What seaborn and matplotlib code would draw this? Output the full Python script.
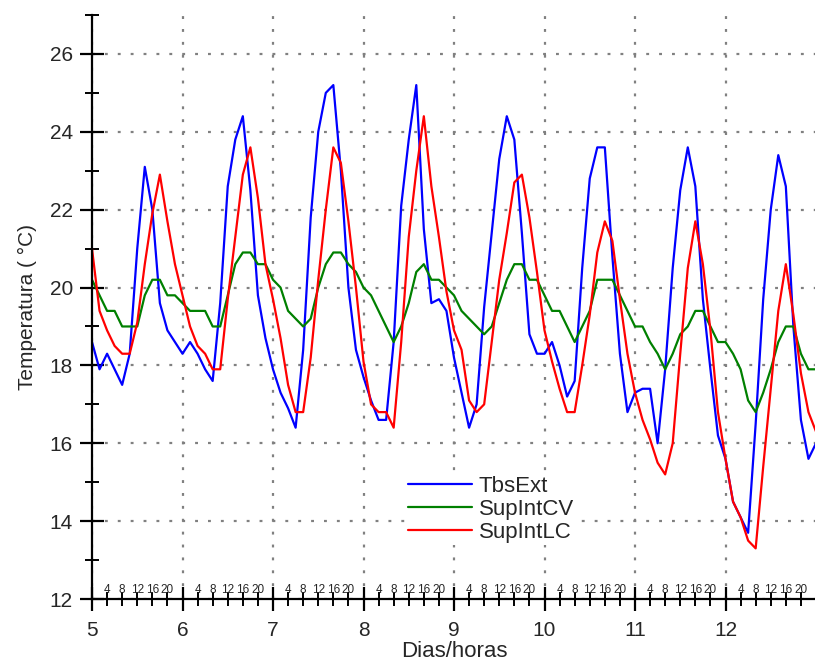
import numpy as np
import pandas as pd
import seaborn as sns
import matplotlib.pyplot as plt
import matplotlib.transforms as mtransforms
from matplotlib.ticker import MultipleLocator, FixedLocator

# leituras a cada 2 horas, a partir do dia 5 às 0h
hours = np.arange(0, 193, 2)

tbs_ext = [
    18.6, 17.9, 18.3, 17.9, 17.5, 18.3, 21.0, 23.1, 22.0, 19.6, 18.9, 18.6,
    18.3, 18.6, 18.3, 17.9, 17.6, 19.6, 22.6, 23.8, 24.4, 22.5, 19.8, 18.7,
    17.9, 17.3, 16.9, 16.4, 18.4, 21.8, 24.0, 25.0, 25.2, 23.0, 20.0, 18.4,
    17.7, 17.1, 16.6, 16.6, 18.6, 22.1, 23.8, 25.2, 21.5, 19.6, 19.7, 19.4,
    18.2, 17.3, 16.4, 17.0, 19.5, 21.4, 23.3, 24.4, 23.8, 21.4, 18.8, 18.3,
    18.3, 18.6, 18.0, 17.2, 17.6, 20.5, 22.8, 23.6, 23.6, 20.8, 18.3, 16.8,
    17.3, 17.4, 17.4, 16.0, 17.9, 20.5, 22.5, 23.6, 22.6, 19.7, 17.9, 16.2,
    15.6, 14.5, 14.1, 13.7, 16.5, 19.7, 22.0, 23.4, 22.6, 19.0, 16.6, 15.6,
    16.0,
]
sup_int_cv = [
    20.2, 19.8, 19.4, 19.4, 19.0, 19.0, 19.0, 19.8, 20.2, 20.2, 19.8, 19.8,
    19.6, 19.4, 19.4, 19.4, 19.0, 19.0, 19.8, 20.6, 20.9, 20.9, 20.6, 20.6,
    20.2, 20.0, 19.4, 19.2, 19.0, 19.2, 20.0, 20.6, 20.9, 20.9, 20.6, 20.4,
    20.0, 19.8, 19.4, 19.0, 18.6, 19.0, 19.6, 20.4, 20.6, 20.2, 20.2, 20.0,
    19.8, 19.4, 19.2, 19.0, 18.8, 19.0, 19.6, 20.2, 20.6, 20.6, 20.2, 20.2,
    19.8, 19.4, 19.4, 19.0, 18.6, 19.0, 19.4, 20.2, 20.2, 20.2, 19.8, 19.4,
    19.0, 19.0, 18.6, 18.3, 17.9, 18.3, 18.8, 19.0, 19.4, 19.4, 19.0, 18.6,
    18.6, 18.3, 17.9, 17.1, 16.8, 17.3, 17.9, 18.6, 19.0, 19.0, 18.3, 17.9,
    17.9,
]
sup_int_lc = [
    21.0, 19.4, 18.9, 18.5, 18.3, 18.3, 19.1, 20.6, 21.9, 22.9, 21.7, 20.6,
    19.8, 19.0, 18.5, 18.3, 17.9, 17.9, 19.7, 21.3, 22.9, 23.6, 22.3, 20.6,
    19.7, 18.7, 17.5, 16.8, 16.8, 18.2, 20.2, 22.0, 23.6, 23.2, 21.7, 20.0,
    18.1, 17.0, 16.8, 16.8, 16.4, 18.6, 21.3, 23.0, 24.4, 22.6, 21.3, 19.9,
    18.9, 18.4, 17.1, 16.8, 17.0, 18.6, 20.2, 21.4, 22.7, 22.9, 21.8, 20.4,
    18.9, 18.1, 17.4, 16.8, 16.8, 18.0, 19.3, 20.9, 21.7, 21.2, 19.7, 18.3,
    17.3, 16.6, 16.1, 15.5, 15.2, 16.0, 18.3, 20.5, 21.7, 20.6, 18.9, 16.8,
    15.6, 14.5, 14.1, 13.5, 13.3, 15.4, 17.4, 19.4, 20.6, 19.3, 17.8, 16.8,
    16.3,
]

series_names = ["TbsExt", "SupIntCV", "SupIntLC"]
series_colors = ["#0000ff", "#008000", "#ff0000"]
day_ticks = [5, 6, 7, 8, 9, 10, 11, 12]
hour_labels = [4, 8, 12, 16, 20]

df = pd.DataFrame({
    "dia": 5 + hours / 24,
    "TbsExt": tbs_ext,
    "SupIntCV": sup_int_cv,
    "SupIntLC": sup_int_lc,
}).melt(id_vars="dia", var_name="serie", value_name="temp")

sns.set_style("white")
plt.rcParams["font.family"] = ["Liberation Sans", "DejaVu Sans"]

fig = plt.figure(figsize=(8.15, 6.64), dpi=100)
ax = fig.add_axes([92 / 815, 65 / 664, 724 / 815, 584 / 664])

sns.lineplot(data=df, x="dia", y="temp", hue="serie", hue_order=series_names,
             palette=dict(zip(series_names, series_colors)), linewidth=1.6, ax=ax)

ax.set_xlim(5, 13)
ax.set_ylim(12, 27)
ax.xaxis.set_major_locator(FixedLocator(day_ticks))
ax.xaxis.set_minor_locator(FixedLocator([d + h / 24 for d in day_ticks for h in hour_labels]))
ax.yaxis.set_major_locator(MultipleLocator(2))
ax.yaxis.set_minor_locator(MultipleLocator(1))

ax.grid(True, which="major", color="#808080", linestyle=(0, (1.3, 4.5)), linewidth=1.6)
for side in ["top", "right"]:
    ax.spines[side].set_visible(False)
for side in ["left", "bottom"]:
    ax.spines[side].set_linewidth(1.6)
    ax.spines[side].set_color("black")

ax.tick_params(which="major", direction="inout", length=17.5, width=1.6, labelsize=15, color="black")
ax.tick_params(axis="x", which="major", pad=7)
ax.tick_params(axis="y", which="major", pad=5)
ax.tick_params(which="minor", direction="inout", length=9.5, width=1.4, color="black")
ax.tick_params(axis="both", which="both", bottom=True, left=True)

# rótulos das horas, pequenos, logo acima do eixo
trans = mtransforms.blended_transform_factory(ax.transData, ax.transAxes)
for d in day_ticks:
    for h in hour_labels:
        ax.text(d + h / 24, 0.01, str(h), transform=trans, ha="center", va="baseline", fontsize=8.5)

ax.set_xlabel("Dias/horas", fontsize=16, labelpad=1)
ax.set_ylabel("Temperatura ( °C)", fontsize=15, labelpad=9)

leg = ax.get_legend()
handles = leg.legend_handles
labels = [t.get_text() for t in leg.get_texts()]
new_leg = ax.legend(handles, labels, frameon=True, loc="upper left", bbox_to_anchor=(0.433, 0.215),
                    fontsize=16, handlelength=2.9, handletextpad=0.3, labelspacing=0.1,
                    borderpad=0.1, borderaxespad=0, framealpha=1, fancybox=False)
new_leg.get_frame().set_facecolor("white")
new_leg.get_frame().set_edgecolor("none")
for line in new_leg.get_lines():
    line.set_linewidth(1.6)

plt.savefig("out.png", dpi=100)
